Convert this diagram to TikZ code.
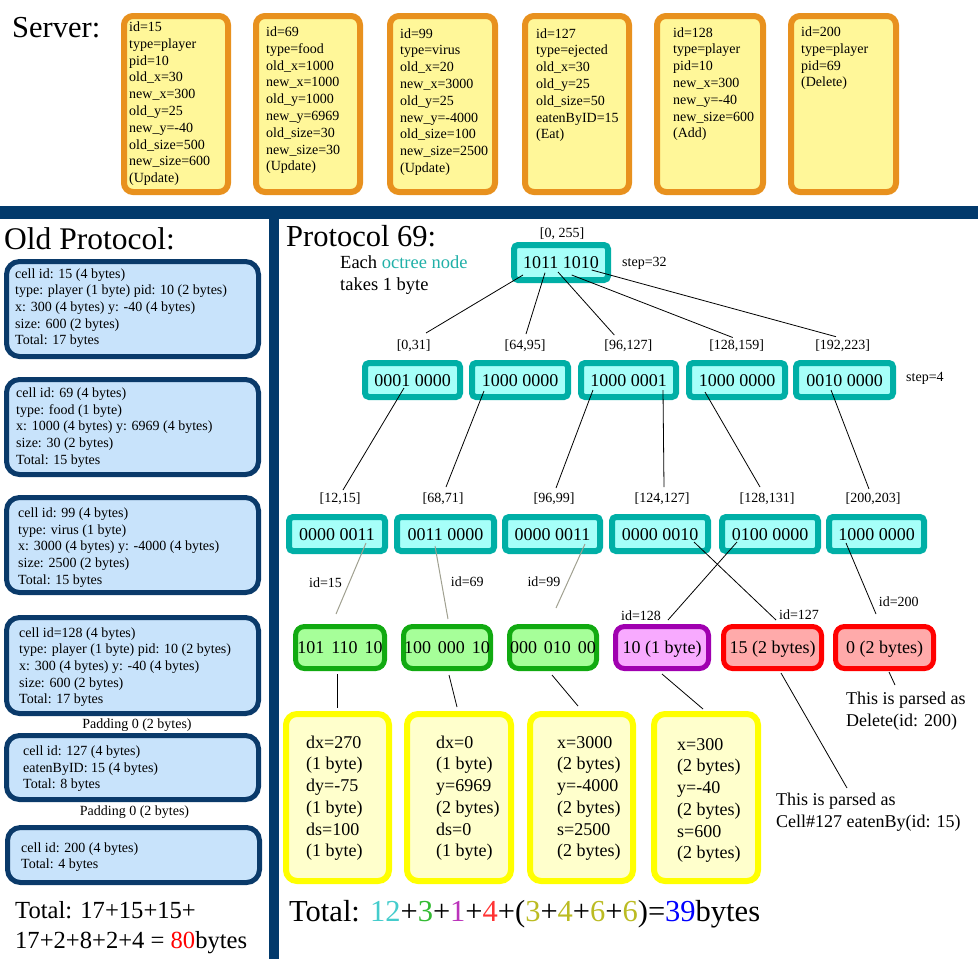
\documentclass[tikz,border=0pt]{standalone}
\usepackage{fontspec}
\setmainfont{Liberation Serif}
\definecolor{orB}{HTML}{E8911E}
\definecolor{orF}{HTML}{FFF799}
\definecolor{blB}{HTML}{0A3A6A}
\definecolor{blF}{HTML}{C8E3FB}
\definecolor{barB}{HTML}{023A6C}
\definecolor{tlB}{HTML}{00AFA6}
\definecolor{tlF}{HTML}{A6FFF9}
\definecolor{grB}{HTML}{11AA11}
\definecolor{grF}{HTML}{A6FF99}
\definecolor{puB}{HTML}{A000B0}
\definecolor{puF}{HTML}{F8AAFF}
\definecolor{rdB}{HTML}{FF0000}
\definecolor{rdF}{HTML}{FFAAAA}
\definecolor{ywB}{HTML}{FFFF00}
\definecolor{ywF}{HTML}{FFFFCC}
\definecolor{lineGray}{HTML}{A0A090}
\definecolor{cTeal}{HTML}{44CCCC}
\definecolor{cGreen}{HTML}{33BB33}
\definecolor{cPurple}{HTML}{BB33BB}
\definecolor{cRed}{HTML}{FF3333}
\definecolor{cOlive}{HTML}{BBBB22}
\definecolor{cBlue}{HTML}{0000FF}
\definecolor{octTeal}{HTML}{20B0A8}
\newcommand\fA{\fontsize{14}{16.8}\selectfont}
\newcommand\fOld{\fontsize{14}{16.7}\selectfont}
\newcommand\fL{\fontsize{14}{16.8}\selectfont}
\newcommand\fT{\fontsize{18}{21.7}\selectfont}
\newcommand\fY{\fontsize{18}{21.7}\selectfont}
\newcommand\fEach{\fontsize{18.5}{21.7}\selectfont}
\newcommand\fServer{\fontsize{30.5}{36}\selectfont}
\newcommand\fOldT{\fontsize{31.5}{36}\selectfont}
\newcommand\fPT{\fontsize{30.5}{36}\selectfont}
\newcommand\fTot{\fontsize{24.6}{30}\selectfont}
\newcommand\fBig{\fontsize{30.5}{36}\selectfont}
% name, style, linewidth, x1, y1, x2, y2, text
\newcommand\mkbx[8]{\node[#2, line width=#3pt, inner sep=0pt, outer sep=0pt,
  minimum width={#6-#4-#3}, minimum height={#7-#5-#3}] (#1)
  at ({(#4+#6)/2},{(#5+#7)/2}) {#8};}
\newcommand\gsp{\hspace{7pt}}
\begin{document}
\begin{tikzpicture}[x=1pt,y=-1pt,
  srvbox/.style={draw=orB, fill=orF, rounded corners=9pt},
  oldbox/.style={draw=blB, fill=blF, rounded corners=13pt},
  tealbox/.style={draw=tlB, fill=tlF, rounded corners=4pt, font=\fT, text height=12.2pt, text depth=0pt},
  grnbox/.style={draw=grB, fill=grF, rounded corners=9pt, font=\fT, text height=12.2pt, text depth=0pt},
  purbox/.style={draw=puB, fill=puF, rounded corners=9pt, font=\fT, text height=12.2pt, text depth=0pt},
  redbox/.style={draw=rdB, fill=rdF, rounded corners=9pt, font=\fT, text height=12.2pt, text depth=0pt},
  ylwbox/.style={draw=ywB, fill=ywF, rounded corners=11pt},
  txt/.style={anchor=north west, inner sep=0pt, align=left},
  lbl/.style={font=\fL, inner sep=0pt},
  ln/.style={draw=black, line width=0.8pt},
  gln/.style={draw=lineGray, line width=1pt}]
\useasboundingbox (0,0) rectangle (978,959);

% ---------- Server ----------
\node[anchor=base west, inner sep=0pt, font=\fServer] (server) at (12,37.5) {Server:};
\mkbx{s1}{srvbox}{6}{121}{13}{231}{195}{}
\mkbx{s2}{srvbox}{6}{253}{13}{363}{195}{}
\mkbx{s3}{srvbox}{6}{387}{13}{498}{195}{}
\mkbx{s4}{srvbox}{6}{522}{13}{632}{195}{}
\mkbx{s5}{srvbox}{6}{654}{13}{766}{195}{}
\mkbx{s6}{srvbox}{6}{788}{13}{899}{195}{}
\node[txt, font=\fA] (st1) at (129,19.5) {\strut id=15\\type=player\\pid=10\\old\_x=30\\new\_x=300\\old\_y=25\\new\_y=-40\\old\_size=500\\new\_size=600\\(Update)};
\node[txt, font=\fA] (st2) at (266,24.5) {\strut id=69\\type=food\\old\_x=1000\\new\_x=1000\\old\_y=1000\\new\_y=6969\\old\_size=30\\new\_size=30\\(Update)};
\node[txt, font=\fA] (st3) at (400,26.2) {\strut id=99\\type=virus\\old\_x=20\\new\_x=3000\\old\_y=25\\new\_y=-4000\\old\_size=100\\new\_size=2500\\(Update)};
\node[txt, font=\fA] (st4) at (536,26.2) {\strut id=127\\type=ejected\\old\_x=30\\old\_y=25\\old\_size=50\\eatenByID=15\\(Eat)};
\node[txt, font=\fA] (st5) at (673,25.2) {\strut id=128\\type=player\\pid=10\\new\_x=300\\new\_y=-40\\new\_size=600\\(Add)};
\node[txt, font=\fA] (st6) at (801,24.5) {\strut id=200\\type=player\\pid=69\\(Delete)};

% ---------- bars ----------
\fill[barB] (0,206) rectangle (978,219);
\fill[barB] (269,219) rectangle (279,959);

% ---------- Old protocol ----------
\node[anchor=base west, inner sep=0pt, font=\fOldT] (oldt) at (4,249) {Old Protocol:};
\mkbx{oa}{oldbox}{5}{4}{259}{261}{359}{}
\mkbx{ob}{oldbox}{5}{4}{377}{261}{477}{}
\mkbx{oc}{oldbox}{5}{4}{495}{261}{595}{}
\mkbx{od}{oldbox}{5}{4}{615}{261}{716}{}
\mkbx{oe}{oldbox}{5}{4}{733}{261}{802}{}
\mkbx{of}{oldbox}{5}{5}{825}{262}{885}{}
\node[txt, font=\fOld] (ota) at (15,266.2) {\strut cell id: 15 (4 bytes)\\type: player (1 byte) pid: 10 (2 bytes)\\x: 300 (4 bytes) y: -40 (4 bytes)\\size: 600 (2 bytes)\\Total: 17 bytes};
\node[txt, font=\fOld] (otb) at (16,385.6) {\strut cell id: 69 (4 bytes)\\type: food (1 byte)\\x: 1000 (4 bytes) y: 6969 (4 bytes)\\size: 30 (2 bytes)\\Total: 15 bytes};
\node[txt, font=\fOld] (otc) at (18,505.6) {\strut cell id: 99 (4 bytes)\\type: virus (1 byte)\\x: 3000 (4 bytes) y: -4000 (4 bytes)\\size: 2500 (2 bytes)\\Total: 15 bytes};
\node[txt, font=\fOld] (otd) at (19,625.2) {\strut cell id=128 (4 bytes)\\type: player (1 byte) pid: 10 (2 bytes)\\x: 300 (4 bytes) y: -40 (4 bytes)\\size: 600 (2 bytes)\\Total: 17 bytes};
\node[txt, font=\fOld] (ote) at (23,743.6) {\strut cell id: 127 (4 bytes)\\eatenByID: 15 (4 bytes)\\Total: 8 bytes};
\node[txt, font=\fOld] (otf) at (21,840.2) {\strut cell id: 200 (4 bytes)\\Total: 4 bytes};
\node[anchor=base, inner sep=0pt, font=\fOld] (pad1) at (137,728.5) {Padding 0 (2 bytes)};
\node[anchor=base, inner sep=0pt, font=\fOld] (pad2) at (134.5,815) {Padding 0 (2 bytes)};
\node[txt, font=\fTot] (oldtot) at (15,897) {\strut Total: 17+15+15+\\17+2+8+2+4 = \textcolor{rdB}{80}bytes};

% ---------- Protocol 69 ----------
\node[anchor=base west, inner sep=0pt, font=\fPT] (p69) at (286,246.5) {Protocol 69:};
\node[txt, font=\fEach] (each) at (340,253.1) {\strut Each \textcolor{octTeal}{octree node}\\takes 1 byte};

% root
\mkbx{root}{tealbox}{6}{511}{242}{611}{283}{1011 1010}
\node[lbl] (lroot) at (562,233.5) {[0, 255]};
\node[lbl, anchor=base west] (step32) at (622,266) {step=32};

% level 2
\mkbx{n1}{tealbox}{6}{362}{360}{463}{400}{0001 0000}
\mkbx{n2}{tealbox}{6}{469}{360}{571}{400}{1000 0000}
\mkbx{n3}{tealbox}{6}{578}{360}{679}{400}{1000 0001}
\mkbx{n4}{tealbox}{6}{686}{360}{788}{400}{1000 0000}
\mkbx{n5}{tealbox}{6}{793}{360}{896}{400}{0010 0000}
\node[lbl] (l01) at (413.7,346) {[0,31]};
\node[lbl] (l64) at (525,346) {[64,95]};
\node[lbl] (l96) at (628.3,346) {[96,127]};
\node[lbl] (l128) at (736.7,346) {[128,159]};
\node[lbl] (l192) at (842.7,346) {[192,223]};
\node[lbl, anchor=base west] (step4) at (906,381) {step=4};

\draw[ln] ([shift={(-38,12.5)}]root.center) -- ([shift={(12.3,-13)}]l01.center);
\draw[ln] ([shift={(-16,10.2)}]root.center) -- ([shift={(1,-12)}]l64.center);
\draw[ln] ([shift={(-3,9.5)}]root.center) -- ([shift={(-14,-11)}]l96.center);
\draw[ln] ([shift={(10.7,12.5)}]root.center) -- ([shift={(-4,-8.5)}]l128.center);
\draw[ln] ([shift={(30.7,7.5)}]root.center) -- ([shift={(-6.7,-9.3)}]l192.center);

% level 3
\mkbx{m1}{tealbox}{6}{286}{514}{388}{554}{0000 0011}
\mkbx{m2}{tealbox}{6}{394}{514}{497}{554}{0011 0000}
\mkbx{m3}{tealbox}{6}{502}{514}{603}{554}{0000 0011}
\mkbx{m4}{tealbox}{6}{609}{514}{711}{554}{0000 0010}
\mkbx{m5}{tealbox}{6}{719}{514}{821}{554}{0100 0000}
\mkbx{m6}{tealbox}{6}{826}{514}{927}{554}{1000 0000}
\node[lbl] (k12) at (340,499) {[12,15]};
\node[lbl] (k68) at (443,499) {[68,71]};
\node[lbl] (k96) at (554,499) {[96,99]};
\node[lbl] (k124) at (662,499) {[124,127]};
\node[lbl] (k128) at (767,499) {[128,131]};
\node[lbl] (k200) at (873,499) {[200,203]};

\draw[ln] ([shift={(-8.5,8)}]n1.center) -- ([shift={(3,-9)}]k12.center);
\draw[ln] ([shift={(-36,11)}]n2.center) -- ([shift={(3,-12)}]k68.center);
\draw[ln] ([shift={(-35.5,10)}]n3.center) -- ([shift={(2,-11)}]k96.center);
\draw[ln] ([shift={(34.5,10)}]n3.center) -- ([shift={(2,-12)}]k124.center);
\draw[ln] ([shift={(-32,12)}]n4.center) -- ([shift={(-7,-12)}]k128.center);
\draw[ln] ([shift={(-13.5,10)}]n5.center) -- ([shift={(-4,-10)}]k200.center);

% level 4
\mkbx{g1}{grnbox}{5}{293}{624}{387}{671}{101\gsp 110\gsp 10}
\mkbx{g2}{grnbox}{5}{401}{624}{493}{671}{100\gsp 000\gsp 10}
\mkbx{g3}{grnbox}{5}{507}{624}{599}{671}{000\gsp 010\gsp 00}
\mkbx{pp}{purbox}{5}{613}{624}{711}{671}{10 (1 byte)}
\mkbx{r1}{redbox}{5}{721}{624}{824}{671}{15 (2 bytes)}
\mkbx{r2}{redbox}{5}{833}{624}{936}{671}{0 (2 bytes)}

\node[lbl, anchor=base west] (id15) at (309,587.6) {id=15};
\node[lbl, anchor=base west] (id69) at (450.7,586) {id=69};
\node[lbl, anchor=base west] (id99) at (527.3,586) {id=99};
\node[lbl, anchor=base west] (id128) at (621,620.3) {id=128};
\node[lbl, anchor=base west] (id127) at (779,619) {id=127};
\node[lbl, anchor=base west] (id200) at (878.7,606.7) {id=200};

\draw[gln] ([shift={(29,9)}]m1.center) -- ([shift={(-4,-33.5)}]g1.center);
\draw[gln] ([shift={(-10.5,12)}]m2.center) -- ([shift={(1,-28.5)}]g2.center);
\draw[gln] ([shift={(32.5,10)}]m3.center) -- ([shift={(3,-39.5)}]g3.center);
\draw[ln] ([shift={(-33,8)}]m5.center) -- ([shift={(6,-27.5)}]pp.center);
\draw[ln] ([shift={(34,8)}]m4.center) -- ([shift={(3.5,-27.5)}]r1.center);
\draw[ln] ([shift={(-30.5,9)}]m6.center) -- ([shift={(-8.5,-33.5)}]r2.center);

% level 5 (yellow)
\mkbx{y1}{ylwbox}{6}{283}{711}{392}{884}{}
\mkbx{y2}{ylwbox}{6}{404}{711}{514}{884}{}
\mkbx{y3}{ylwbox}{6}{527}{711}{636}{884}{}
\mkbx{y4}{ylwbox}{6}{651}{711}{761}{884}{}
\node[txt, font=\fY] (yt1) at (306,732.8) {\strut dx=270\\(1 byte)\\dy=-75\\(1 byte)\\ds=100\\(1 byte)};
\node[txt, font=\fY] (yt2) at (436,732.8) {\strut dx=0\\(1 byte)\\y=6969\\(2 bytes)\\ds=0\\(1 byte)};
\node[txt, font=\fY] (yt3) at (557,732.8) {\strut x=3000\\(2 bytes)\\y=-4000\\(2 bytes)\\s=2500\\(2 bytes)};
\node[txt, font=\fY] (yt4) at (677,734.8) {\strut x=300\\(2 bytes)\\y=-40\\(2 bytes)\\s=600\\(2 bytes)};

\node[txt, font=\fY] (note1) at (846,689) {\strut This is parsed as\\Delete(id: 200)};
\node[txt, font=\fY] (note2) at (776,790) {\strut This is parsed as\\Cell\#127 eatenBy(id: 15)};

\draw[ln] ([shift={(-3,26.5)}]g1.center) -- ([shift={(-0.5,-89.5)}]y1.center);
\draw[ln] ([shift={(2,27.5)}]g2.center) -- ([shift={(-2,-90.5)}]y2.center);
\draw[ln] ([shift={(-1,27.5)}]g3.center) -- ([shift={(-3.5,-91.5)}]y3.center);
\draw[ln] ([shift={(0,26.5)}]pp.center) -- ([shift={(-3,-88.5)}]y4.center);
\draw[ln] ([shift={(8.5,25.5)}]r1.center) -- ([shift={(71,-2)}]note2.north west);
\draw[ln] ([shift={(4.5,24.5)}]r2.center) -- ([shift={(49,-4)}]note1.north west);

\node[anchor=base west, inner sep=0pt, font=\fBig] (newtot) at (289,921) {Total: \textcolor{cTeal}{12}+\textcolor{cGreen}{3}+\textcolor{cPurple}{1}+\textcolor{cRed}{4}+(\textcolor{cOlive}{3}+\textcolor{cOlive}{4}+\textcolor{cOlive}{6}+\textcolor{cOlive}{6})=\textcolor{cBlue}{39}bytes};
\end{tikzpicture}
\end{document}
